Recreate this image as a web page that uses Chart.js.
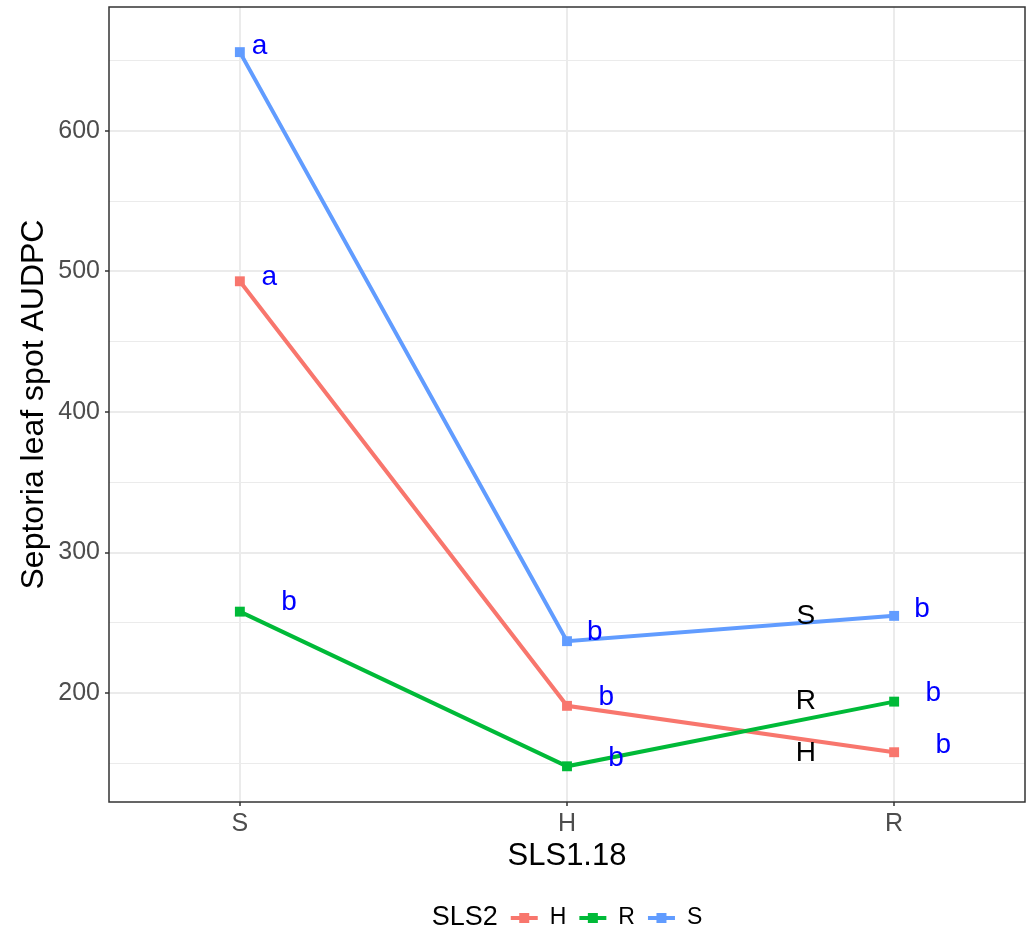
<!DOCTYPE html>
<html>
<head>
<meta charset="utf-8">
<script src="https://cdn.jsdelivr.net/npm/chart.js@4/dist/chart.umd.min.js"></script>
<style>
  html, body { margin: 0; padding: 0; background: #fff; }
  canvas { display: block; }
</style>
</head>
<body>
<canvas id="myLineChart" width="1033" height="932"></canvas>
<script>
// SLS1.18 genotype classes on the x axis
const categories = ['S', 'H', 'R'];

// SLS2 groups (legend) and their AUDPC means
const groupNames = ['H', 'R', 'S'];
const groupColors = ['#F8766D', '#00BA38', '#619CFF'];
const valuesH = [493, 191, 158];
const valuesR = [258, 148, 194];
const valuesS = [656, 237, 255];

// significance letters, one per point
const lettersH = ['a', 'b', 'b'];
const lettersR = ['b', 'b', 'b'];
const lettersS = ['a', 'b', 'b'];

// where the letters sit (data units)
const letterXH = [1.09, 2.12, 3.15];
const letterYH = [496, 197, 163];
const letterXR = [1.15, 2.15, 3.12];
const letterYR = [265, 154, 200];
const letterXS = [1.06, 2.085, 3.085];
const letterYS = [660, 243, 260];

// group names written along the lines
const groupLabelX = [2.73, 2.73, 2.73];
const groupLabelY = [157, 194, 255];

const FONT = "'Liberation Sans', Arial, sans-serif";

function toPoints(vals) {
    return vals.map((v, i) => ({ x: i + 1, y: v }));
}

const textPlugin = {
    id: 'textLabels',
    afterDatasetsDraw(chart) {
        const ctx = chart.ctx;
        const xs = chart.scales.x, ys = chart.scales.y;
        ctx.save();
        ctx.textAlign = 'center';
        ctx.textBaseline = 'middle';
        ctx.font = '28px ' + FONT;
        ctx.fillStyle = '#0000FF';
        const sets = [[lettersH, letterXH, letterYH], [lettersR, letterXR, letterYR], [lettersS, letterXS, letterYS]];
        sets.forEach(s => {
            s[0].forEach((t, i) => {
                ctx.fillText(t, xs.getPixelForValue(s[1][i]), ys.getPixelForValue(s[2][i]));
            });
        });
        ctx.fillStyle = '#000000';
        groupNames.forEach((g, i) => {
            ctx.fillText(g, xs.getPixelForValue(groupLabelX[i]), ys.getPixelForValue(groupLabelY[i]));
        });
        ctx.restore();
    },
    afterDraw(chart) {
        const ctx = chart.ctx;
        const area = chart.chartArea;
        ctx.save();
        // panel border
        ctx.strokeStyle = '#333333';
        ctx.lineWidth = 1.5;
        ctx.strokeRect(area.left, area.top, area.right - area.left, area.bottom - area.top);

        // legend at the bottom
        const y = 918;
        ctx.textBaseline = 'middle';
        ctx.textAlign = 'left';
        ctx.font = '27px ' + FONT;
        const title = 'SLS2';
        const tw = ctx.measureText(title).width;
        ctx.font = '23px ' + FONT;
        const keyW = 27, gap1 = 13, gap2 = 12;
        let total = tw;
        groupNames.forEach(g => { total += gap1 + keyW + gap2 + ctx.measureText(g).width; });
        let x = (area.left + area.right) / 2 - total / 2;
        ctx.font = '27px ' + FONT;
        ctx.fillStyle = '#000';
        ctx.fillText(title, x, y);
        x += tw;
        ctx.font = '23px ' + FONT;
        groupNames.forEach((g, i) => {
            x += gap1;
            ctx.strokeStyle = groupColors[i];
            ctx.lineWidth = 4;
            ctx.beginPath();
            ctx.moveTo(x, y);
            ctx.lineTo(x + keyW, y);
            ctx.stroke();
            ctx.fillStyle = groupColors[i];
            ctx.fillRect(x + keyW / 2 - 5, y - 5, 10, 10);
            x += keyW + gap2;
            ctx.fillStyle = '#000';
            ctx.fillText(g, x, y);
            x += ctx.measureText(g).width;
        });
        ctx.restore();
    }
};

const allValues = [valuesH, valuesR, valuesS];

var ctx = document.getElementById('myLineChart');
var myLineChart = new Chart(ctx, {
    type: 'line',
    data: {
        datasets: groupNames.map((g, i) => ({
            label: g,
            data: toPoints(allValues[i]),
            borderColor: groupColors[i],
            backgroundColor: groupColors[i],
            borderWidth: 4,
            pointStyle: 'rect',
            pointRadius: 7,
            pointBorderWidth: 0,
            pointBackgroundColor: groupColors[i],
            tension: 0,
            order: 3 - i,
        })),
    },
    options: {
        responsive: false,
        animation: false,
        devicePixelRatio: 1,
        layout: { padding: { left: 0, top: 6, right: 8, bottom: 55 } },
        plugins: {
            legend: { display: false },
            tooltip: { enabled: false },
        },
        scales: {
            x: {
                type: 'linear',
                min: 0.6,
                max: 3.4,
                afterBuildTicks: scale => { scale.ticks = categories.map((c, i) => ({ value: i + 1 })); },
                afterFit: scale => {
                    scale.height = 75;
                    scale.paddingLeft = 0;
                    scale.paddingRight = 0;
                },
                border: { display: false },
                grid: { color: '#EBEBEB', lineWidth: 2, tickLength: 4, tickColor: '#333333', tickWidth: 1.5 },
                ticks: {
                    padding: 3,
                    color: '#4D4D4D',
                    font: { family: FONT, size: 25 },
                    callback: v => categories[v - 1],
                },
                title: {
                    display: true,
                    text: 'SLS1.18',
                    color: '#000',
                    font: { family: FONT, size: 31 },
                    padding: { top: 0, bottom: 2 },
                },
            },
            y: {
                min: 122.6,
                max: 688.1,
                afterFit: scale => {
                    scale.width = 109;
                    scale.paddingTop = 0;
                    scale.paddingBottom = 0;
                },
                border: { display: false },
                grid: {
                    color: '#EBEBEB',
                    lineWidth: c => (c.tick && c.tick.value % 100 === 0) ? 2 : 1,
                    tickLength: 4,
                    tickColor: c => (c.tick && c.tick.value % 100 === 0) ? '#333333' : 'rgba(0,0,0,0)',
                    tickWidth: 1.5,
                },
                ticks: {
                    stepSize: 50,
                    includeBounds: false,
                    autoSkip: false,
                    padding: 5,
                    color: '#4D4D4D',
                    font: { family: FONT, size: 25 },
                    callback: v => (v % 100 === 0) ? String(v) : '',
                },
                title: {
                    display: true,
                    text: 'Septoria leaf spot AUDPC',
                    color: '#000',
                    font: { family: FONT, size: 32 },
                    padding: { top: 15, bottom: 0 },
                },
            },
        },
    },
    plugins: [textPlugin],
});
</script>
</body>
</html>
